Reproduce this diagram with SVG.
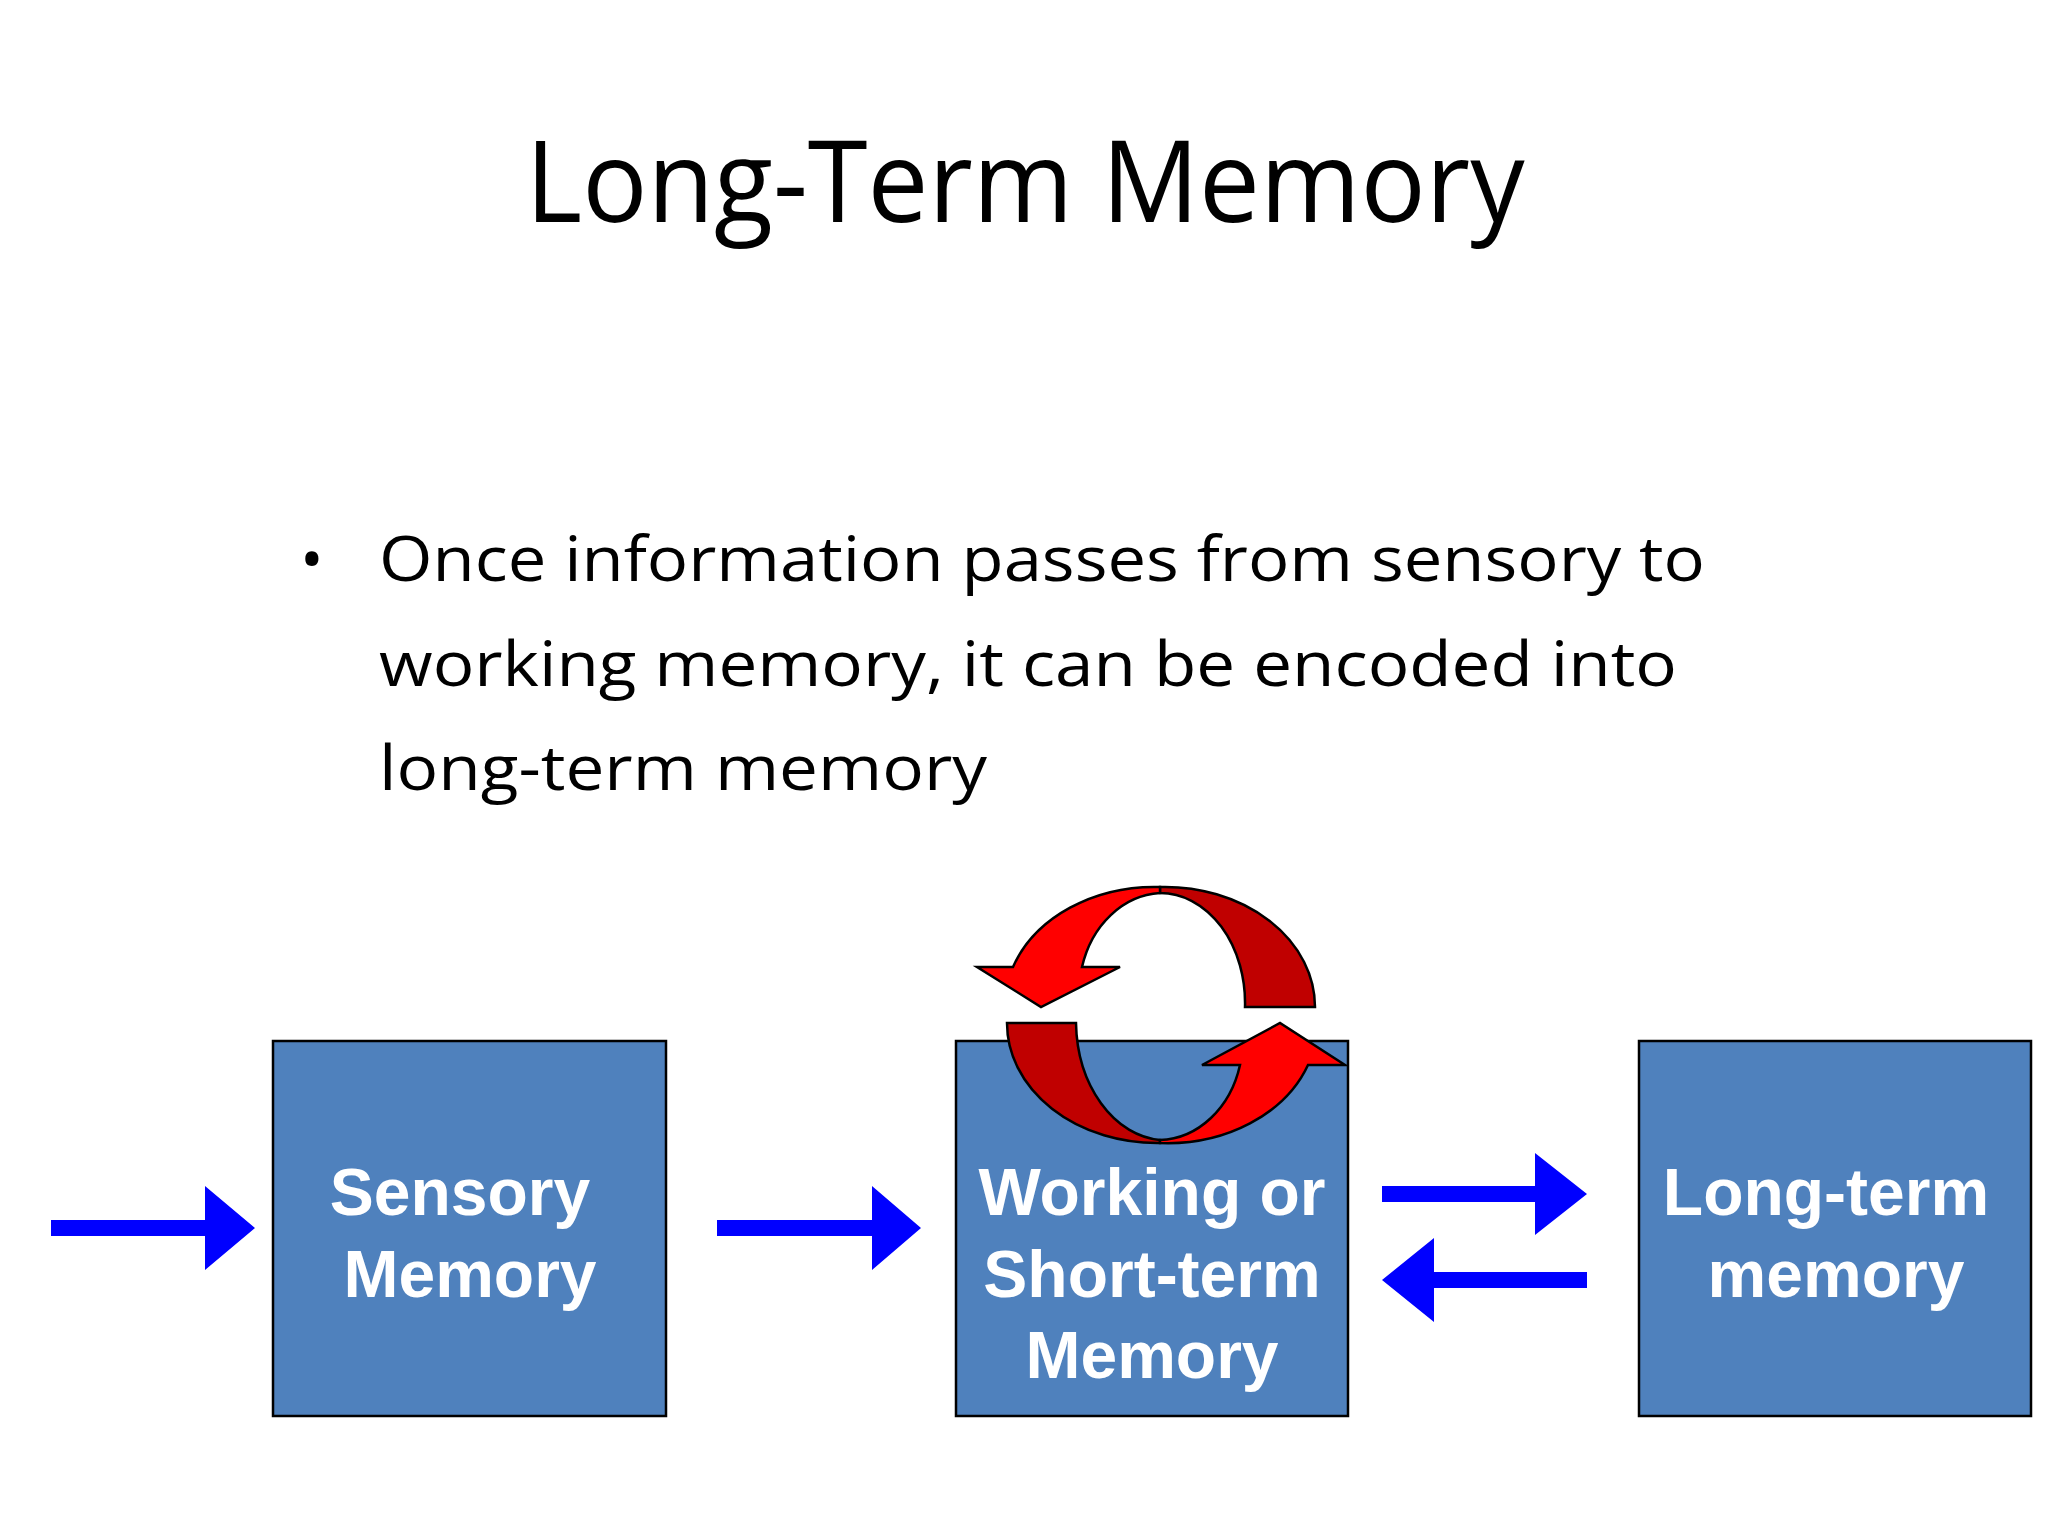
<svg xmlns="http://www.w3.org/2000/svg" width="2048" height="1536" viewBox="0 0 2048 1536">
<style>
.box{fill:#4F81BD;stroke:#000;stroke-width:2.5}
.bt{font-family:"Liberation Sans",Arial,sans-serif;font-weight:bold;font-size:66px;fill:#fff;text-anchor:middle}
.body{font-family:"Open Sans","Noto Sans",sans-serif;font-size:63px;fill:#000}
.blue{fill:#0000FF}
.red{fill:#FF0000;stroke:#000;stroke-width:2.5;stroke-linejoin:miter}
.dred{fill:#C00000;stroke:#000;stroke-width:2.5}
</style>
<rect width="2048" height="1536" fill="#fff"/>
<text x="1025" y="222" font-family="'Open Sans','Noto Sans',sans-serif" font-size="114" text-anchor="middle" textLength="999" lengthAdjust="spacingAndGlyphs">Long-Term Memory</text>
<text x="300" y="581" class="body">•</text>
<text x="379" y="581" class="body" textLength="1326" lengthAdjust="spacingAndGlyphs">Once information passes from sensory to</text>
<text x="379" y="686" class="body" textLength="1298" lengthAdjust="spacingAndGlyphs">working memory, it can be encoded into</text>
<text x="379" y="790" class="body" textLength="608" lengthAdjust="spacingAndGlyphs">long-term memory</text>
<g id="sensory"><rect class="box" x="273" y="1041" width="393" height="375"/><text class="bt" x="460" y="1215">Sensory</text><text class="bt" x="470" y="1297">Memory</text></g>
<g id="working"><rect class="box" x="956" y="1041" width="392" height="375"/><text class="bt" x="1152" y="1215">Working or</text><text class="bt" x="1152" y="1297">Short-term</text><text class="bt" x="1152" y="1378">Memory</text></g>
<g id="longterm"><rect class="box" x="1639" y="1041" width="392" height="375"/><text class="bt" x="1826" y="1215">Long-term</text><text class="bt" x="1836" y="1297">memory</text></g>
<g id="rehearsal">
<path class="dred" d="M1160,887 A150,120 0 0 1 1315,1007 L1245,1007 A85,110 0 0 0 1160,893 Z"/>
<path class="red" d="M1160,887 A150,120 0 0 0 1013,967 L977,967 L1041,1007 L1120,967 L1082,967 A85,100 0 0 1 1160,893 Z"/>
<path class="dred" d="M1007,1023 L1076,1023 A90,120 0 0 0 1160,1140 L1160,1143 A150,120 0 0 1 1007,1023 Z"/>
<path class="red" d="M1160,1143 A150,120 0 0 0 1308,1065 L1345,1065 L1280,1023 L1202,1065 L1240,1065 A85,100 0 0 1 1160,1140 Z"/>
</g>
<g id="connectors">
<path class="blue" d="M51,1220 H205 V1186 L255,1228 L205,1270 V1236 H51 Z"/>
<path class="blue" d="M717,1220 H872 V1186 L921,1228 L872,1270 V1236 H717 Z"/>
<path class="blue" d="M1382,1186 H1535 V1153 L1587,1194 L1535,1235 V1202 H1382 Z"/>
<path class="blue" d="M1587,1272 H1434 V1238 L1382,1280 L1434,1322 V1288 H1587 Z"/>
</g>
</svg>
